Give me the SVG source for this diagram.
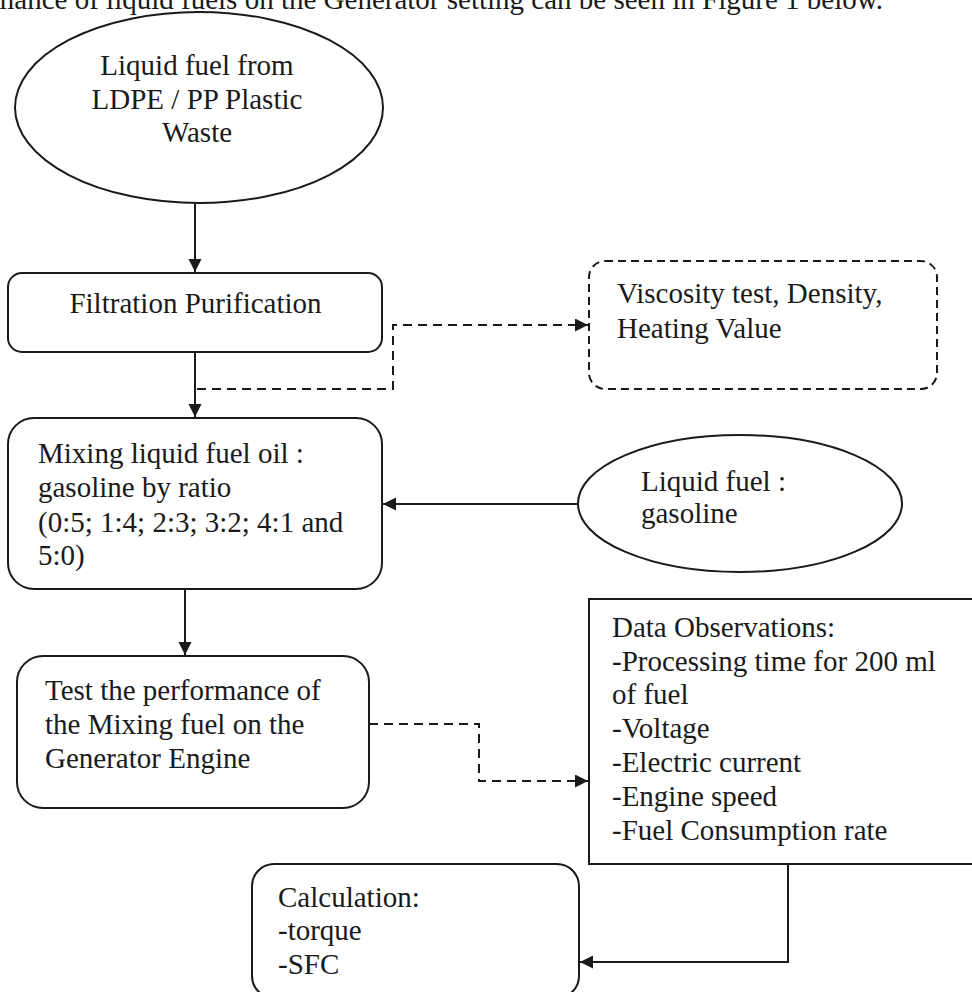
<svg xmlns="http://www.w3.org/2000/svg" width="972" height="992" viewBox="0 0 972 992">
<style>
text{font-family:"Liberation Serif","Times New Roman",serif;font-size:29px;fill:#1a1a1a}
.box{fill:#fff;stroke:#1a1a1a;stroke-width:2}
.dbox{fill:#fff;stroke:#1a1a1a;stroke-width:2;stroke-dasharray:8 5}
.ln{fill:none;stroke:#1a1a1a;stroke-width:2}
.dl{fill:none;stroke:#1a1a1a;stroke-width:2;stroke-dasharray:9 6}
.c{text-anchor:middle}
</style>
<defs>
<marker id="ah" markerUnits="userSpaceOnUse" markerWidth="14" markerHeight="14" refX="13" refY="6.5" orient="auto">
<path d="M0,0 L13,6.5 L0,13 z" fill="#1a1a1a"/>
</marker>
</defs>
<rect width="972" height="992" fill="#fff"/>
<text x="883" y="9" text-anchor="end">mance of liquid fuels on the Generator setting can be seen in Figure 1 below.</text>

<g id="connectors">
<line class="ln" x1="195" y1="203" x2="195" y2="272" marker-end="url(#ah)"/>
<line class="ln" x1="195" y1="352" x2="195" y2="417" marker-end="url(#ah)"/>
<polyline class="dl" points="197,389 393,389 393,325 588,325" marker-end="url(#ah)"/>
<line class="ln" x1="578" y1="504" x2="383" y2="504" marker-end="url(#ah)"/>
<line class="ln" x1="185" y1="589" x2="185" y2="655" marker-end="url(#ah)"/>
<polyline class="dl" points="369,724 479,724 479,781 588,781" marker-end="url(#ah)"/>
<polyline class="ln" points="788,864 788,962 580,962" marker-end="url(#ah)"/>
</g>

<g id="node-source">
<ellipse class="box" cx="199" cy="107.5" rx="184" ry="95.5"/>
<text class="c"><tspan x="197" y="75">Liquid fuel from</tspan><tspan x="197" y="109">LDPE / PP Plastic</tspan><tspan x="197" y="142">Waste</tspan></text>
</g>

<g id="node-filtration">
<rect class="box" x="8" y="273" width="374" height="79" rx="14"/>
<text class="c" x="195.5" y="313">Filtration Purification</text>
</g>

<g id="node-viscosity">
<rect class="dbox" x="589" y="261" width="348" height="128" rx="16"/>
<text><tspan x="617" y="303">Viscosity test, Density,</tspan><tspan x="617" y="338">Heating Value</tspan></text>
</g>

<g id="node-mixing">
<rect class="box" x="8" y="418" width="374" height="171" rx="26"/>
<text><tspan x="38" y="463">Mixing liquid fuel oil :</tspan><tspan x="38" y="497">gasoline by ratio</tspan><tspan x="38" y="532">(0:5; 1:4; 2:3; 3:2; 4:1 and</tspan><tspan x="38" y="565">5:0)</tspan></text>
</g>

<g id="node-gasoline">
<ellipse class="box" cx="740" cy="503.5" rx="162" ry="68.5"/>
<text><tspan x="641" y="491">Liquid fuel :</tspan><tspan x="641" y="523">gasoline</tspan></text>
</g>

<g id="node-test">
<rect class="box" x="17" y="656" width="352" height="152" rx="26"/>
<text><tspan x="45" y="700">Test the performance of</tspan><tspan x="45" y="734">the Mixing fuel on the</tspan><tspan x="45" y="768">Generator Engine</tspan></text>
</g>

<g id="node-data">
<rect class="box" x="589" y="599" width="385" height="265"/>
<text><tspan x="612" y="637">Data Observations:</tspan><tspan x="612" y="671">-Processing time for 200 ml</tspan><tspan x="612" y="704">of fuel</tspan><tspan x="612" y="738">-Voltage</tspan><tspan x="612" y="772">-Electric current</tspan><tspan x="612" y="806">-Engine speed</tspan><tspan x="612" y="840">-Fuel Consumption rate</tspan></text>
</g>

<g id="node-calculation">
<rect class="box" x="252" y="864" width="327" height="134" rx="22"/>
<text><tspan x="278" y="907">Calculation:</tspan><tspan x="278" y="940">-torque</tspan><tspan x="278" y="974">-SFC</tspan></text>
</g>
</svg>
